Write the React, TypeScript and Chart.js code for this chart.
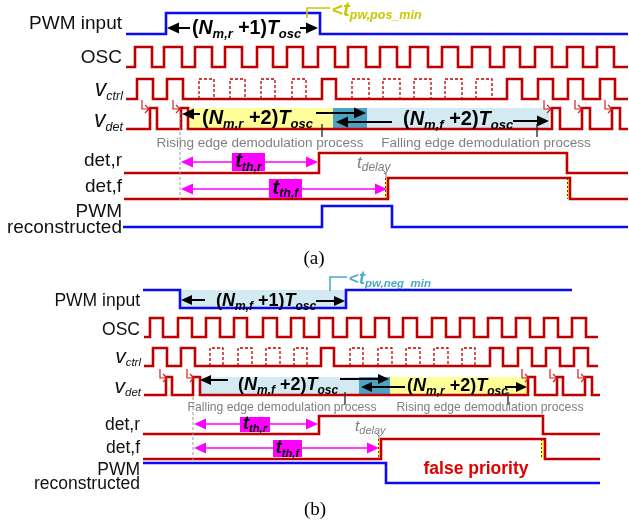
import React, { useEffect, useRef } from 'react';
import { Chart, registerables } from 'chart.js';
Chart.register(...registerables);

type Pair = [number, number];

// ---------------- Panel (a) data (time axis in drawing units) ----------------
const pwmInputEdgesA = [166, 320]; // starts low
const oscPulsesA: Pair[] = [[135, 152], [164, 182], [195, 212], [225, 242], [257, 273], [287, 303], [318, 335], [348, 366], [380, 397], [410, 428], [442, 458], [472, 490], [504, 520], [535, 552], [567, 583], [597, 614]];
const vctrlSolidA: Pair[] = [[137, 153], [167, 183], [322, 336], [507, 522], [538, 553], [568, 583], [600, 615]];
const vctrlDashedA: Pair[] = [[199, 214], [230, 245], [261, 275], [292, 306], [352, 369], [383, 400], [414, 431], [445, 462], [476, 492]];
const vdetPulsesA: Pair[] = [[150, 157], [181, 188], [552, 560], [582, 590], [612, 620]];
const detREdgesA = [319, 567]; // starts low
const detFEdgesA = [388, 570]; // starts low
const pwmRecEdgesA = [322, 392]; // starts low
const vdetMarksA = [142, 173, 544, 575, 605];

// ---------------- Panel (b) data ----------------
const pwmInputEdgesB = [180, 346]; // starts high
const oscPulsesB: Pair[] = [[150, 163], [178, 192], [206, 220], [234, 247], [263, 277], [291, 304], [319, 333], [347, 361], [375, 389], [403, 417], [432, 446], [460, 474], [488, 502], [516, 530], [544, 558], [572, 586]];
const vctrlSolidB: Pair[] = [[153, 167], [181, 195], [321, 334], [490, 503], [518, 532], [546, 560], [574, 588]];
const vctrlDashedB: Pair[] = [[210, 223], [238, 252], [266, 280], [294, 307], [350, 363], [378, 392], [406, 420], [434, 448], [462, 475]];
const vdetPulsesB: Pair[] = [[166, 172], [193, 200], [528, 535], [557, 563], [585, 592]];
const detREdgesB = [319, 543]; // starts low
const detFEdgesB = [381, 545]; // starts low
const pwmRecEdgesB = [386]; // starts high
const vdetMarksB = [160, 187, 522, 550, 578];

// ---------------- layout (rows: [high, low], spans) ----------------
const rowsA = {
  pwm: { hi: 13, lo: 34, x0: 126, x1: 628 },
  osc: { hi: 47, lo: 67, x0: 126, x1: 628 },
  vctrl: { hi: 79, lo: 99, x0: 126, x1: 628 },
  vdet: { hi: 108, lo: 129, x0: 126, x1: 628 },
  detr: { hi: 153, lo: 173, x0: 124, x1: 628 },
  detf: { hi: 178, lo: 199, x0: 124, x1: 628 },
  rec: { hi: 206, lo: 227, x0: 123, x1: 628 },
};
const rowsB = {
  pwm: { hi: 290, lo: 308, x0: 143, x1: 572 },
  osc: { hi: 318, lo: 337, x0: 144, x1: 598 },
  vctrl: { hi: 348, lo: 366, x0: 144, x1: 598 },
  vdet: { hi: 377, lo: 395, x0: 144, x1: 600 },
  detr: { hi: 416, lo: 434, x0: 143, x1: 600 },
  detf: { hi: 439, lo: 459, x0: 143, x1: 600 },
  rec: { hi: 463, lo: 483, x0: 143, x1: 600 },
};

const RED = '#c00000';
const BLUE = '#0a0af5';
const YELLOW = '#ffff99';
const TEAL = '#4aa3c2';
const LIGHT = '#d3eaf2';
const MAGENTA = '#ff00ff';
const GRAY = '#7f7f7f';
const FONT = '"Liberation Sans", Arial, sans-serif';
const SERIF = '"Liberation Serif", "Times New Roman", serif';

type Row = { hi: number; lo: number; x0: number; x1: number };
type Pt = { x: number; y: number | null };

function pulseLine(r: Row, pulses: Pair[]): Pt[] {
  const pts: Pt[] = [{ x: r.x0, y: r.lo }];
  for (const [a, b] of pulses) pts.push({ x: a, y: r.lo }, { x: a, y: r.hi }, { x: b, y: r.hi }, { x: b, y: r.lo });
  pts.push({ x: r.x1, y: r.lo });
  return pts;
}
function dashedPulses(r: Row, pulses: Pair[]): Pt[] {
  const pts: Pt[] = [];
  for (const [a, b] of pulses) pts.push({ x: a, y: r.lo }, { x: a, y: r.hi }, { x: b, y: r.hi }, { x: b, y: r.lo }, { x: b, y: null });
  return pts;
}
function edgeLine(r: Row, startHigh: boolean, edges: number[]): Pt[] {
  let high = startHigh;
  const pts: Pt[] = [{ x: r.x0, y: high ? r.hi : r.lo }];
  for (const e of edges) {
    pts.push({ x: e, y: high ? r.hi : r.lo });
    high = !high;
    pts.push({ x: e, y: high ? r.hi : r.lo });
  }
  pts.push({ x: r.x1, y: high ? r.hi : r.lo });
  return pts;
}

function ds(data: Pt[], color: string, width: number, dash: number[] = []) {
  return {
    data, showLine: true, borderColor: color, borderWidth: width, borderDash: dash,
    pointRadius: 0, pointHoverRadius: 0, fill: false, tension: 0,
    borderJoinStyle: 'miter', borderCapStyle: 'butt', spanGaps: false,
  };
}

const f = (size: number, bold = false, italic = false) => `${italic ? 'italic ' : ''}${bold ? 'bold ' : ''}${size}px ${FONT}`;
type Part = { t: string; f: string; dy?: number };

function nExpr(sub: string, k: string, size: number, subSize: number): Part[] {
  return [
    { t: '(', f: f(size, true) },
    { t: 'N', f: f(size, true, true) },
    { t: sub, f: f(subSize, true, true), dy: size * 0.22 },
    { t: ' +' + k + ')', f: f(size, true) },
    { t: 'T', f: f(size, true, true) },
    { t: 'osc', f: f(subSize, true, true), dy: size * 0.22 },
  ];
}

const timingPlugin = {
  id: 'timing',
  beforeDatasetsDraw(chart: any) {
    const ctx = chart.ctx as CanvasRenderingContext2D;
    const xs = chart.scales.x, ys = chart.scales.y;
    const X = (v: number) => xs.getPixelForValue(v);
    const Y = (v: number) => ys.getPixelForValue(v);
    const rect = (x0: number, x1: number, y0: number, y1: number, c: string) => {
      ctx.fillStyle = c;
      ctx.fillRect(X(x0), Y(y0), X(x1) - X(x0), Y(y1) - Y(y0));
    };
    ctx.save();
    // panel a boxes
    rect(187, 333, rowsA.vdet.hi, rowsA.vdet.lo, YELLOW);
    rect(333, 367, rowsA.vdet.hi, rowsA.vdet.lo, TEAL);
    rect(367, 549, rowsA.vdet.hi, rowsA.vdet.lo, LIGHT);
    // panel b boxes
    rect(180, 346, rowsB.pwm.hi, rowsB.pwm.lo, LIGHT);
    rect(200, 359, rowsB.vdet.hi, rowsB.vdet.lo, LIGHT);
    rect(359, 390, rowsB.vdet.hi, rowsB.vdet.lo, TEAL);
    rect(390, 528, rowsB.vdet.hi, rowsB.vdet.lo, YELLOW);
    // delay bars on det,f
    const bars: [number, number, Row][] = [[385, 389, rowsA.detf], [567, 571, rowsA.detf], [378, 382, rowsB.detf], [541, 545, rowsB.detf]];
    for (const [a, b, r] of bars) {
      rect(a, b, r.hi, r.lo, '#ffff55');
      ctx.strokeStyle = '#8a2b00';
      ctx.lineWidth = 1;
      ctx.setLineDash([2, 2]);
      ctx.beginPath();
      ctx.moveTo(X(a) + 0.5, Y(r.hi));
      ctx.lineTo(X(a) + 0.5, Y(r.lo));
      ctx.stroke();
      ctx.setLineDash([]);
    }
    ctx.restore();
  },
  afterDatasetsDraw(chart: any) {
    const ctx = chart.ctx as CanvasRenderingContext2D;
    const xs = chart.scales.x, ys = chart.scales.y;
    const X = (v: number) => xs.getPixelForValue(v);
    const Y = (v: number) => ys.getPixelForValue(v);
    ctx.save();
    ctx.textBaseline = 'alphabetic';

    const rich = (parts: Part[], x: number, y: number, align: 'left' | 'right' | 'center', color: string) => {
      let w = 0;
      for (const p of parts) { ctx.font = p.f; w += ctx.measureText(p.t).width; }
      let cx = align === 'left' ? X(x) : align === 'right' ? X(x) - w : X(x) - w / 2;
      ctx.fillStyle = color;
      for (const p of parts) {
        ctx.font = p.f;
        ctx.fillText(p.t, cx, Y(y + (p.dy || 0)));
        cx += ctx.measureText(p.t).width;
      }
    };
    const text = (t: string, font: string, x: number, y: number, align: CanvasTextAlign, color: string) => {
      ctx.font = font; ctx.fillStyle = color; ctx.textAlign = align;
      ctx.fillText(t, X(x), Y(y));
      ctx.textAlign = 'left';
    };
    const line = (pts: [number, number][], color: string, lw: number, dash: number[] = []) => {
      ctx.strokeStyle = color; ctx.lineWidth = lw; ctx.setLineDash(dash);
      ctx.beginPath();
      pts.forEach(([a, b], i) => (i ? ctx.lineTo(X(a), Y(b)) : ctx.moveTo(X(a), Y(b))));
      ctx.stroke();
      ctx.setLineDash([]);
    };
    const arrow = (x1: number, y1: number, x2: number, y2: number, color: string, lw: number, hl: number, hw: number) => {
      const px1 = X(x1), py1 = Y(y1), px2 = X(x2), py2 = Y(y2);
      const ang = Math.atan2(py2 - py1, px2 - px1);
      const bx = px2 - hl * Math.cos(ang), by = py2 - hl * Math.sin(ang);
      ctx.strokeStyle = color; ctx.lineWidth = lw;
      ctx.beginPath(); ctx.moveTo(px1, py1); ctx.lineTo(bx, by); ctx.stroke();
      ctx.fillStyle = color;
      ctx.beginPath();
      ctx.moveTo(px2, py2);
      ctx.lineTo(bx + (hw / 2) * Math.sin(ang), by - (hw / 2) * Math.cos(ang));
      ctx.lineTo(bx - (hw / 2) * Math.sin(ang), by + (hw / 2) * Math.cos(ang));
      ctx.closePath(); ctx.fill();
    };
    const dbl = (xa: number, xb: number, y: number) => {
      const m = (xa + xb) / 2;
      arrow(m, y, xa, y, MAGENTA, 1.6, 12, 11);
      arrow(m, y, xb, y, MAGENTA, 1.6, 12, 11);
    };
    const mark = (x: number, yTop: number) => {
      ctx.strokeStyle = '#d02020'; ctx.lineWidth = 1.2;
      ctx.beginPath();
      ctx.moveTo(X(x), Y(yTop)); ctx.lineTo(X(x), Y(yTop + 9)); ctx.lineTo(X(x + 7), Y(yTop + 9));
      ctx.moveTo(X(x + 3), Y(yTop + 5)); ctx.lineTo(X(x + 7), Y(yTop + 9)); ctx.lineTo(X(x + 3), Y(yTop + 13));
      ctx.stroke();
    };
    const mbox = (x0: number, x1: number, y0: number, y1: number, sub: string, size: number) => {
      ctx.fillStyle = MAGENTA;
      ctx.fillRect(X(x0), Y(y0), X(x1) - X(x0), Y(y1) - Y(y0));
      rich([{ t: 't', f: f(size, true, true) }, { t: sub, f: f(size * 0.62, true, true), dy: size * 0.18 }], (x0 + x1) / 2, y1 - (y1 - y0) * 0.22, 'center', '#000');
    };

    // ---------- Panel (a) ----------
    const LA = f(19);
    text('PWM input', LA, 122, 29, 'right', '#111');
    text('OSC', LA, 122, 63, 'right', '#111');
    rich([{ t: 'v', f: f(23, false, true) }, { t: 'ctrl', f: f(12.5, false, true), dy: 3.5 }], 123, 96, 'right', '#111');
    rich([{ t: 'v', f: f(23, false, true) }, { t: 'det', f: f(12.5, false, true), dy: 3.5 }], 123, 127, 'right', '#111');
    text('det,r', LA, 122, 166, 'right', '#111');
    text('det,f', LA, 122, 192, 'right', '#111');
    text('PWM', LA, 122, 217, 'right', '#111');
    text('reconstructed', LA, 122, 233, 'right', '#111');

    arrow(190, 28, 167, 28, '#000', 2, 12, 11);
    rich(nExpr('m,r', '1', 19.5, 13), 192, 34, 'left', '#000');
    arrow(300, 28, 318, 28, '#000', 2, 12, 11);

    line([[307, 18], [307, 8], [330, 8]], '#c8c800', 1.6);
    rich([{ t: '<', f: f(19, true) }, { t: 't', f: f(20, true, true) }, { t: 'pw,pos_min', f: f(12.5, true, true), dy: 3 }], 332, 16, 'left', '#c8c800');

    arrow(200, 114, 182, 114, '#000', 2, 12, 11);
    rich(nExpr('m,r', '2', 20, 13), 202, 124, 'left', '#000');
    arrow(316, 113, 366, 113, '#000', 2, 12, 11);
    arrow(392, 122, 336, 122, '#000', 2, 12, 11);
    rich(nExpr('m,f', '2', 20, 13), 403, 125, 'left', '#000');
    arrow(513, 121, 549, 121, '#000', 2, 12, 11);
    line([[322, 124], [322, 137]], '#222', 1.3);
    line([[537, 124], [537, 137]], '#222', 1.3);
    for (const m of vdetMarksA) mark(m, 100);

    text('Rising edge demodulation process', f(13.5), 260, 147, 'center', GRAY);
    text('Falling edge demodulation process', f(13.5), 486, 147, 'center', GRAY);

    line([[180, 112], [180, 201]], '#999', 1, [3, 2]);
    dbl(181, 318, 162);
    mbox(232, 265, 153, 171, 'th,r', 20);
    dbl(181, 387, 189);
    mbox(269, 302, 179, 198, 'th,f', 20);

    rich([{ t: 't', f: f(17, false, true) }, { t: 'delay', f: f(12, false, true), dy: 3 }], 357, 168, 'left', GRAY);
    line([[383, 170], [386, 173], [386, 178]], GRAY, 1);

    ctx.font = `19px ${SERIF}`; ctx.fillStyle = '#000'; ctx.textAlign = 'center';
    ctx.fillText('(a)', X(314), Y(264));
    ctx.textAlign = 'left';

    // ---------- Panel (b) ----------
    const LB = f(17.5);
    text('PWM input', LB, 140, 306, 'right', '#111');
    text('OSC', LB, 140, 335, 'right', '#111');
    rich([{ t: 'v', f: f(21, false, true) }, { t: 'ctrl', f: f(11.5, false, true), dy: 3 }], 141, 363, 'right', '#111');
    rich([{ t: 'v', f: f(21, false, true) }, { t: 'det', f: f(11.5, false, true), dy: 3 }], 141, 393, 'right', '#111');
    text('det,r', LB, 140, 430, 'right', '#111');
    text('det,f', LB, 140, 453, 'right', '#111');
    text('PWM', LB, 140, 475, 'right', '#111');
    text('reconstructed', LB, 140, 489, 'right', '#111');

    arrow(205, 300, 181, 300, '#000', 2, 11, 10);
    rich(nExpr('m,f', '1', 18, 12), 216, 306, 'left', '#000');
    arrow(316, 301, 345, 301, '#000', 2, 11, 10);

    line([[330, 291], [330, 277], [347, 277]], '#4bacc6', 1.6);
    rich([{ t: '<', f: f(17, true) }, { t: 't', f: f(18, true, true) }, { t: 'pw,neg_min', f: f(11.5, true, true), dy: 3 }], 349, 284, 'left', '#4bacc6');

    arrow(228, 380, 200, 380, '#000', 2, 11, 10);
    rich(nExpr('m,f', '2', 18, 12), 238, 390, 'left', '#000');
    arrow(340, 379, 389, 379, '#000', 2, 11, 10);
    arrow(405, 387, 361, 387, '#000', 2, 11, 10);
    rich(nExpr('m,r', '2', 18, 12), 407, 391, 'left', '#000');
    arrow(505, 387, 527, 387, '#000', 2, 11, 10);
    line([[345, 392], [345, 405]], '#222', 1.3);
    line([[508, 392], [508, 405]], '#222', 1.3);
    for (const m of vdetMarksB) mark(m, 369);

    text('Falling edge demodulation process', f(12.2), 282, 411, 'center', GRAY);
    text('Rising edge demodulation process', f(12.2), 490, 411, 'center', GRAY);

    line([[193, 397], [193, 461]], '#999', 1, [3, 2]);
    dbl(194, 318, 424);
    mbox(240, 270, 417, 432, 'th,r', 18);
    dbl(194, 379, 448);
    mbox(273, 302, 440, 457, 'th,f', 18);

    rich([{ t: 't', f: f(15.5, false, true) }, { t: 'delay', f: f(11, false, true), dy: 3 }], 355, 431, 'left', GRAY);
    line([[376, 433], [379, 436], [379, 439]], GRAY, 1);

    text('false priority', f(17.5, true), 476, 474, 'center', '#e00000');

    ctx.font = `19px ${SERIF}`; ctx.fillStyle = '#000'; ctx.textAlign = 'center';
    ctx.fillText('(b)', X(315), Y(515));
    ctx.restore();
  },
};

export default function App() {
  const ref = useRef<HTMLCanvasElement>(null);
  useEffect(() => {
    if (!ref.current) return;
    const W = 2.6;
    const datasets: any[] = [
      // panel a
      ds(edgeLine(rowsA.pwm, false, pwmInputEdgesA), BLUE, W),
      ds(pulseLine(rowsA.osc, oscPulsesA), RED, W),
      ds(pulseLine(rowsA.vctrl, vctrlSolidA), RED, W),
      ds(dashedPulses(rowsA.vctrl, vctrlDashedA), RED, 1.3, [3, 2]),
      ds(pulseLine(rowsA.vdet, vdetPulsesA), RED, W),
      ds(edgeLine(rowsA.detr, false, detREdgesA), RED, W),
      ds(edgeLine(rowsA.detf, false, detFEdgesA), RED, W),
      ds(edgeLine(rowsA.rec, false, pwmRecEdgesA), BLUE, W),
      // panel b
      ds(edgeLine(rowsB.pwm, true, pwmInputEdgesB), BLUE, W),
      ds(pulseLine(rowsB.osc, oscPulsesB), RED, W),
      ds(pulseLine(rowsB.vctrl, vctrlSolidB), RED, W),
      ds(dashedPulses(rowsB.vctrl, vctrlDashedB), RED, 1.3, [3, 2]),
      ds(pulseLine(rowsB.vdet, vdetPulsesB), RED, W),
      ds(edgeLine(rowsB.detr, false, detREdgesB), RED, W),
      ds(edgeLine(rowsB.detf, false, detFEdgesB), RED, W),
      ds(edgeLine(rowsB.rec, true, pwmRecEdgesB), BLUE, W),
    ];
    const chart = new Chart(ref.current, {
      type: 'scatter',
      data: { datasets },
      options: {
        animation: false,
        responsive: false,
        devicePixelRatio: 1,
        events: [],
        layout: { padding: 0 },
        plugins: { legend: { display: false }, tooltip: { enabled: false } },
        scales: {
          x: { type: 'linear', min: 0, max: 629, display: false },
          y: { type: 'linear', min: 0, max: 527, reverse: true, display: false },
        },
      },
      plugins: [timingPlugin],
    } as any);
    return () => chart.destroy();
  }, []);
  return (
    <div style={{ position: 'fixed', left: 0, top: 0, width: 629, height: 527, background: '#fff' }}>
      <canvas ref={ref} width={629} height={527} style={{ display: 'block' }} />
    </div>
  );
}
